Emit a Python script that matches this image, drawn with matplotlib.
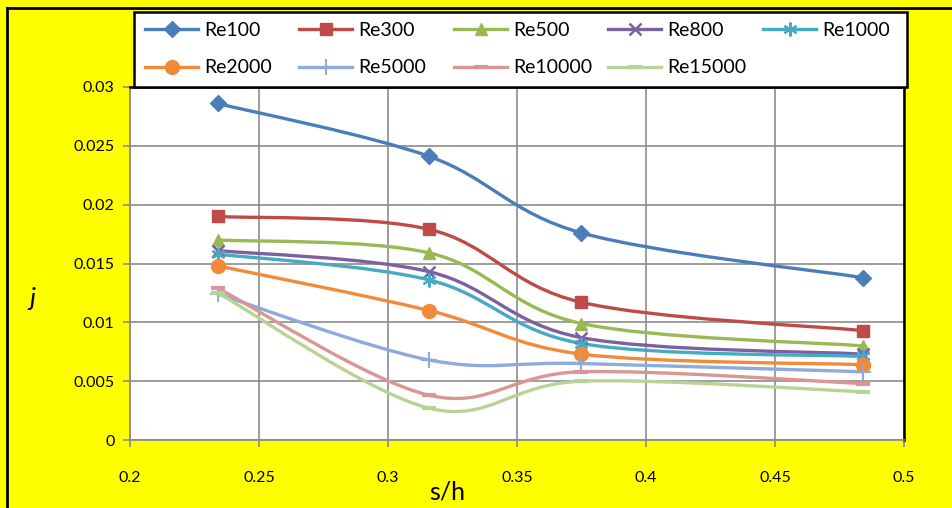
import numpy as np
import matplotlib
matplotlib.use("Agg")
import matplotlib.pyplot as plt
from matplotlib.path import Path
from matplotlib.patches import PathPatch, Rectangle
from matplotlib.lines import Line2D

plt.rcParams['font.family'] = ['Lato', 'DejaVu Sans']

s_h = [0.234, 0.316, 0.375, 0.484]
series_names = ["Re100", "Re300", "Re500", "Re800", "Re1000",
                "Re2000", "Re5000", "Re10000", "Re15000"]
re100 = [0.0286, 0.0241, 0.0176, 0.0138]
re300 = [0.0190, 0.0179, 0.0117, 0.0093]
re500 = [0.0170, 0.0159, 0.0099, 0.0080]
re800 = [0.0161, 0.0143, 0.0087, 0.0073]
re1000 = [0.0158, 0.0136, 0.0082, 0.0071]
re2000 = [0.0148, 0.0110, 0.0073, 0.0064]
re5000 = [0.0124, 0.0068, 0.0065, 0.0058]
re10000 = [0.0129, 0.0038, 0.0058, 0.0048]
re15000 = [0.0125, 0.0027, 0.0050, 0.0041]
values = [re100, re300, re500, re800, re1000, re2000, re5000, re10000, re15000]

x_ticks = [0.2, 0.25, 0.3, 0.35, 0.4, 0.45, 0.5]
x_tick_labels = ["0.2", "0.25", "0.3", "0.35", "0.4", "0.45", "0.5"]
y_ticks = [0, 0.005, 0.01, 0.015, 0.02, 0.025, 0.03]
y_tick_labels = ["0", "0.005", "0.01", "0.015", "0.02", "0.025", "0.03"]

colors = ["#4A7EBB", "#BE4B48", "#98B954", "#7D60A0", "#46AAC5",
          "#F38A3A", "#8FAADC", "#D99694", "#B9D396"]
markers = ["D", "s", "^", "x", (6, 2, 0), "o", "+", "_", "_"]
msizes = [8, 9, 9, 8, 10, 10, 11, 10, 10]
mews = [1, 1, 1, 1.8, 1.5, 1, 1.5, 3, 3]


def smooth_path(xs, ys):
    pts = np.column_stack([xs, ys]).astype(float)
    n = len(pts)
    verts = [pts[0]]
    codes = [Path.MOVETO]
    for i in range(n - 1):
        p0 = pts[i - 1] if i > 0 else pts[i]
        p1 = pts[i]
        p2 = pts[i + 1]
        p3 = pts[i + 2] if i + 2 < n else pts[i + 1]
        c1 = p1 + (p2 - p0) / 6.0
        c2 = p2 - (p3 - p1) / 6.0
        verts += [c1, c2, p2]
        codes += [Path.CURVE4] * 3
    return Path(verts, codes)


W, H = 953, 508
fig = plt.figure(figsize=(W / 100, H / 100), dpi=100)
fig.patch.set_facecolor("#FFFF00")
ax = fig.add_axes([130 / W, 1 - 440 / H, (904 - 130) / W, (440 - 87) / H])
ax.set_facecolor("white")

for name, vals, c, m, ms, mew in zip(series_names, values, colors, markers, msizes, mews):
    patch = PathPatch(smooth_path(s_h, vals), facecolor="none", edgecolor=c,
                      lw=2.4, zorder=3, capstyle="round", joinstyle="round")
    ax.add_patch(patch)
    ax.plot(s_h, vals, linestyle="none", marker=m, markersize=ms, color=c,
            markeredgecolor=c, markeredgewidth=mew, zorder=4)

ax.set_xlim(0.2, 0.5)
ax.set_ylim(0, 0.03)
ax.set_xticks(x_ticks)
ax.set_xticklabels(x_tick_labels)
ax.set_yticks(y_ticks)
ax.set_yticklabels(y_tick_labels)
ax.grid(True, color="#8C8C8C", lw=1.2, zorder=1)
ax.set_axisbelow(True)
for sp in ["left", "bottom"]:
    ax.spines[sp].set_color("#8C8C8C")
    ax.spines[sp].set_linewidth(1.3)
for sp in ["top", "right"]:
    ax.spines[sp].set_color("black")
    ax.spines[sp].set_linewidth(1.8)
ax.tick_params(axis="both", colors="#8C8C8C", labelcolor="black", length=5,
               width=1.2, labelsize=11.5)
ax.tick_params(axis="x", pad=17)
ax.tick_params(axis="y", pad=6)

fig.text(32 / W, 1 - 298 / H, "j", fontsize=19, style="italic",
         ha="center", va="center")
fig.text(447 / W, 1 - 492 / H, "s/h", fontsize=18, ha="center", va="center")

# figure border lines (top and left)
fig.add_artist(Line2D([7 / W, 7 / W], [0, 1 - 8 / H], transform=fig.transFigure,
                      color="black", lw=2))
fig.add_artist(Line2D([7 / W, 1], [1 - 8 / H, 1 - 8 / H], transform=fig.transFigure,
                      color="black", lw=2))

# legend box
fig.add_artist(Rectangle((134 / W, 1 - 87 / H), (907 - 134) / W, (87 - 12) / H,
                         transform=fig.transFigure, facecolor="white",
                         edgecolor="black", lw=1.8, zorder=5))
handles = [Line2D([], [], color=c, lw=2.4, marker=m, markersize=ms, markeredgewidth=mew,
                  markeredgecolor=c)
           for c, m, ms, mew in zip(colors, markers, msizes, mews)]
# legend laid out as 5 equally spaced columns, 2 rows (like the reference)
col_x = [145, 299, 454, 608, 763]
for ci, cx in enumerate(col_x):
    idx = [i for i in (ci, ci + 5) if i < len(series_names)]
    leg = fig.legend([handles[i] for i in idx], [series_names[i] for i in idx],
                     loc="upper left", bbox_to_anchor=(cx / W, 1 - 22 / H),
                     frameon=False, fontsize=14, handlelength=2.75,
                     handletextpad=0.28, labelspacing=1.05, borderpad=0,
                     borderaxespad=0)
    leg.set_zorder(6)

fig.savefig("out.png", dpi=100, facecolor=fig.get_facecolor())
